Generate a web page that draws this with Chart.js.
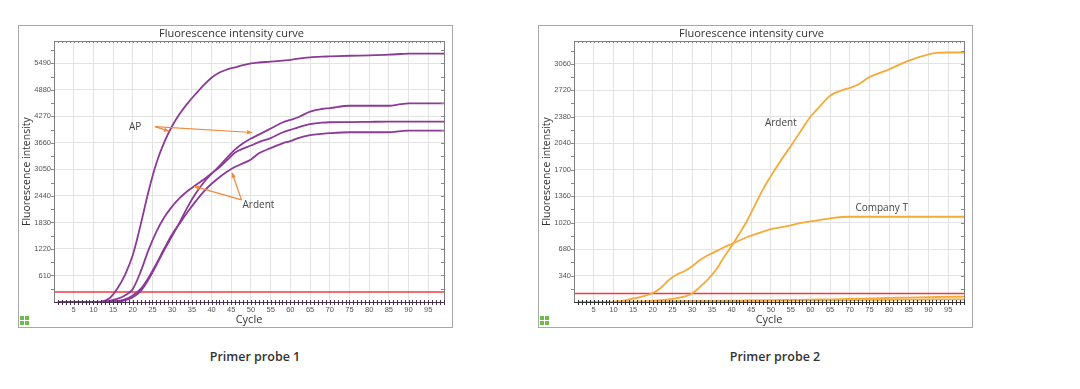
<!DOCTYPE html>
<html>
<head>
<meta charset="utf-8">
<script src="https://cdn.jsdelivr.net/npm/chart.js@4.4.1/dist/chart.umd.min.js"></script>
<style>
  body { margin: 0; background: #fff; width: 1080px; height: 389px; position: relative; overflow: hidden; font-family: 'Open Sans', sans-serif; }
  .panel { position: absolute; top: 25px; width: 435px; height: 303px; box-sizing: border-box; border: 1px solid #a8a8a8; }
  .panel canvas { position: absolute; left: 0; top: 0; }
  .icon { position: absolute; left: 1px; top: 290px; width: 9px; height: 9px; }
  .icon i { position: absolute; width: 4px; height: 4px; background: #6dbb4a; }
  .caption { position: absolute; top: 348px; width: 200px; text-align: center; font-size: 12.5px; font-weight: 600; color: #333; }
</style>
</head>
<body>
<div class="panel" style="left:18px">
  <canvas id="chart1" width="433" height="301"></canvas>
  <div class="icon"><i style="left:0;top:0"></i><i style="left:5px;top:0"></i><i style="left:0;top:5px"></i><i style="left:5px;top:5px"></i></div>
</div>
<div class="panel" style="left:538px">
  <canvas id="chart2" width="433" height="301"></canvas>
  <div class="icon"><i style="left:0;top:0"></i><i style="left:5px;top:0"></i><i style="left:0;top:5px"></i><i style="left:5px;top:5px"></i></div>
</div>
<div class="caption" style="left:155px">Primer probe 1</div>
<div class="caption" style="left:675px">Primer probe 2</div>

<script>
// x axis
var xMin = 0, xMax = 99;
var xTicks = [5, 10, 15, 20, 25, 30, 35, 40, 45, 50, 55, 60, 65, 70, 75, 80, 85, 90, 95];

// Primer probe 1
var cycles1 = [1, 5, 10, 12, 14, 16, 18, 20, 22, 24, 26, 28, 30, 32, 34, 36, 38, 40, 42, 44, 46, 48, 50, 52, 55, 58, 60, 62, 65, 68, 70, 75, 80, 85, 88, 90, 95, 99];
var apHigh  = [0, 0, 0, 10, 80, 300, 620, 1080, 1780, 2550, 3200, 3680, 4050, 4340, 4580, 4790, 4990, 5160, 5280, 5350, 5400, 5450, 5490, 5510, 5530, 5555, 5570, 5600, 5630, 5645, 5650, 5665, 5675, 5690, 5705, 5715, 5715, 5715];
var ardentA = [0, 0, 0, 5, 25, 70, 150, 300, 700, 1200, 1620, 1950, 2200, 2400, 2560, 2690, 2820, 2960, 3100, 3270, 3440, 3530, 3600, 3680, 3770, 3900, 3960, 4020, 4090, 4125, 4135, 4140, 4145, 4150, 4150, 4150, 4150, 4150];
var apLow   = [0, 0, 0, 0, 3, 12, 40, 110, 250, 520, 850, 1200, 1520, 1850, 2200, 2500, 2750, 2950, 3130, 3330, 3510, 3650, 3760, 3850, 3990, 4130, 4190, 4250, 4380, 4440, 4460, 4515, 4515, 4515, 4550, 4570, 4570, 4570];
var ardentB = [0, 0, 0, 0, 5, 20, 60, 150, 300, 560, 880, 1230, 1560, 1820, 2080, 2320, 2540, 2720, 2870, 3000, 3110, 3190, 3280, 3420, 3540, 3650, 3700, 3770, 3840, 3870, 3885, 3905, 3905, 3905, 3930, 3944, 3944, 3944];
var yTicks1 = [0, 610, 1220, 1830, 2440, 3050, 3660, 4270, 4880, 5490];
var yMax1 = 6000, threshold1 = 230;

// Primer probe 2
var cycles2  = [1, 5, 10, 15, 18, 20, 22, 24, 26, 28, 30, 32, 34, 36, 38, 40, 42, 44, 46, 48, 50, 52, 55, 58, 60, 62, 65, 68, 70, 72, 75, 78, 80, 85, 90, 92, 95, 99];
var ardent2  = [0, 0, 0, 2, 8, 15, 25, 35, 50, 70, 110, 195, 290, 410, 570, 720, 880, 1050, 1250, 1450, 1620, 1780, 2000, 2230, 2380, 2490, 2650, 2720, 2750, 2790, 2890, 2950, 2990, 3100, 3180, 3200, 3205, 3205];
var companyT = [0, 0, 2, 45, 80, 115, 180, 280, 350, 395, 460, 540, 600, 650, 700, 745, 790, 835, 870, 905, 935, 955, 985, 1020, 1035, 1050, 1075, 1092, 1095, 1095, 1095, 1095, 1095, 1095, 1095, 1095, 1095, 1095];
var lowA     = [0, 0, 0, 0, 0, 2, 4, 6, 8, 10, 12, 13, 14, 15, 16, 17, 18, 19, 20, 21, 22, 24, 26, 28, 30, 32, 35, 38, 40, 42, 45, 50, 52, 57, 62, 64, 66, 68];
var lowB     = [0, 0, 3, 5, 6, 7, 8, 8, 9, 10, 10, 11, 12, 12, 13, 13, 14, 15, 16, 16, 17, 18, 19, 20, 21, 22, 23, 24, 25, 26, 27, 28, 29, 30, 32, 33, 34, 35];
var yTicks2 = [0, 340, 680, 1020, 1360, 1700, 2040, 2380, 2720, 3060];
var yMax2 = 3350, threshold2 = 110;

function pts(xs, ys) {
  return xs.map(function (c, i) { return { x: c, y: ys[i] }; });
}

function curve(xs, ys, color) {
  return { data: pts(xs, ys), borderColor: color, borderWidth: 1.8, pointRadius: 0, cubicInterpolationMode: 'monotone', fill: false };
}

function thresholdLine(v) {
  return { data: [{ x: xMin, y: v }, { x: xMax, y: v }], borderColor: '#ef3b3f', borderWidth: 1.5, pointRadius: 0, fill: false };
}

// frame, minor ticks and the arrow notes
var frameDecor = {
  id: 'frameDecor',
  afterDatasetsDraw: function (chart, args, o) {
    var ctx = chart.ctx, a = chart.chartArea, x = chart.scales.x, y = chart.scales.y;
    ctx.save();
    ctx.lineWidth = 1;

    ctx.strokeStyle = '#8a8a8a';
    ctx.beginPath();
    for (var c = xMin + 1; c <= xMax; c++) {
      var px = Math.round(x.getPixelForValue(c)) + 0.5;
      ctx.moveTo(px, a.top);
      ctx.lineTo(px, a.top + 2);
    }
    for (var v = o.step / 2; v < y.max; v += o.step / 2) {
      var py = Math.round(y.getPixelForValue(v)) + 0.5;
      ctx.moveTo(a.left - 3, py);
      ctx.lineTo(a.left, py);
      ctx.moveTo(a.right - 3, py);
      ctx.lineTo(a.right, py);
    }
    ctx.stroke();

    ctx.strokeStyle = '#7d7d7d';
    ctx.strokeRect(Math.round(a.left) + 0.5, Math.round(a.top) + 0.5, Math.round(a.right - a.left), Math.round(a.bottom - a.top));

    // baseline with cross marks
    ctx.strokeStyle = o.baseColor;
    ctx.beginPath();
    var by = Math.round(a.bottom) + 0.5;
    ctx.moveTo(a.left, by);
    ctx.lineTo(a.right, by);
    for (c = xMin + 1; c <= xMax; c++) {
      px = Math.round(x.getPixelForValue(c)) + 0.5;
      ctx.moveTo(px, by - 2.5);
      ctx.lineTo(px, by + 2.5);
    }
    ctx.stroke();

    // arrows
    ctx.strokeStyle = '#f0893d';
    ctx.fillStyle = '#f0893d';
    ctx.lineWidth = 1.2;
    (o.arrows || []).forEach(function (ar) {
      var x0 = x.getPixelForValue(ar[0]), y0 = y.getPixelForValue(ar[1]);
      var x1 = x.getPixelForValue(ar[2]), y1 = y.getPixelForValue(ar[3]);
      var ang = Math.atan2(y1 - y0, x1 - x0);
      ctx.beginPath();
      ctx.moveTo(x0, y0);
      ctx.lineTo(x1, y1);
      ctx.stroke();
      ctx.beginPath();
      ctx.moveTo(x1, y1);
      ctx.lineTo(x1 - 5 * Math.cos(ang) + 2.3 * Math.sin(ang), y1 - 5 * Math.sin(ang) - 2.3 * Math.cos(ang));
      ctx.lineTo(x1 - 5 * Math.cos(ang) - 2.3 * Math.sin(ang), y1 - 5 * Math.sin(ang) + 2.3 * Math.cos(ang));
      ctx.closePath();
      ctx.fill();
    });

    // labels
    ctx.fillStyle = '#444';
    ctx.font = '10px "Open Sans"';
    ctx.textAlign = 'center';
    ctx.textBaseline = 'middle';
    (o.notes || []).forEach(function (n) {
      ctx.fillText(n.text, x.getPixelForValue(n.x), y.getPixelForValue(n.y));
    });
    ctx.restore();
  }
};

function buildChart(id, datasets, yTicks, yMax, decor) {
  return new Chart(document.getElementById(id), {
    type: 'line',
    data: { datasets: datasets },
    plugins: [frameDecor],
    options: {
      responsive: false,
      animation: false,
      layout: { padding: { left: 0, right: 8, top: 0, bottom: 0 } },
      plugins: {
        legend: { display: false },
        tooltip: { enabled: false },
        title: {
          display: true, text: 'Fluorescence intensity curve', color: '#333',
          font: { family: 'Open Sans', size: 11, weight: 'normal' }, padding: { top: 1, bottom: 1 }
        },
        frameDecor: decor
      },
      scales: {
        x: {
          type: 'linear', min: xMin, max: xMax,
          afterBuildTicks: function (s) { s.ticks = xTicks.map(function (v) { return { value: v }; }); },
          afterFit: function (s) { s.height = 25; },
          grid: { color: '#e3e3e3', drawTicks: false },
          border: { display: false },
          ticks: { padding: 3, color: '#555', autoSkip: false, maxRotation: 0, font: { family: 'Liberation Sans', size: 7.5 } },
          title: { display: true, text: 'Cycle', color: '#333', font: { family: 'Open Sans', size: 11 }, padding: { top: 0, bottom: 1 } }
        },
        y: {
          min: 0, max: yMax,
          afterBuildTicks: function (s) { s.ticks = yTicks.map(function (v) { return { value: v }; }); },
          afterFit: function (s) { s.width = 35; },
          grid: { color: '#e3e3e3', drawTicks: false },
          border: { display: false },
          ticks: {
            padding: 3, color: '#555', font: { family: 'Liberation Sans', size: 7.5 },
            callback: function (v) { return v === 0 ? '' : v; }
          },
          title: { display: true, text: 'Fluorescence intensity', color: '#333', font: { family: 'Open Sans', size: 10.5 }, padding: { top: 2, bottom: 0 } }
        }
      }
    }
  });
}

var purple = '#8b3a98', orange = '#f6aa3a';

buildChart('chart1', [
  curve(cycles1, apHigh, purple),
  curve(cycles1, ardentA, purple),
  curve(cycles1, apLow, purple),
  curve(cycles1, ardentB, purple),
  thresholdLine(threshold1)
], yTicks1, yMax1, {
  step: 610, baseColor: '#4a3050',
  notes: [{ text: 'AP', x: 20.6, y: 4020 }, { text: 'Ardent', x: 51.9, y: 2230 }],
  arrows: [[25.6, 4035, 29.2, 3930], [25.6, 4035, 50.3, 3900], [47.6, 2348, 35.6, 2660], [47.6, 2348, 45.2, 2975]]
});

buildChart('chart2', [
  curve(cycles2, lowB, orange),
  curve(cycles2, lowA, orange),
  curve(cycles2, companyT, orange),
  curve(cycles2, ardent2, orange),
  thresholdLine(threshold2)
], yTicks2, yMax2, {
  step: 340, baseColor: '#333',
  notes: [{ text: 'Ardent', x: 52.5, y: 2300 }, { text: 'Company T', x: 78.1, y: 1210 }],
  arrows: []
});
</script>
</body>
</html>
